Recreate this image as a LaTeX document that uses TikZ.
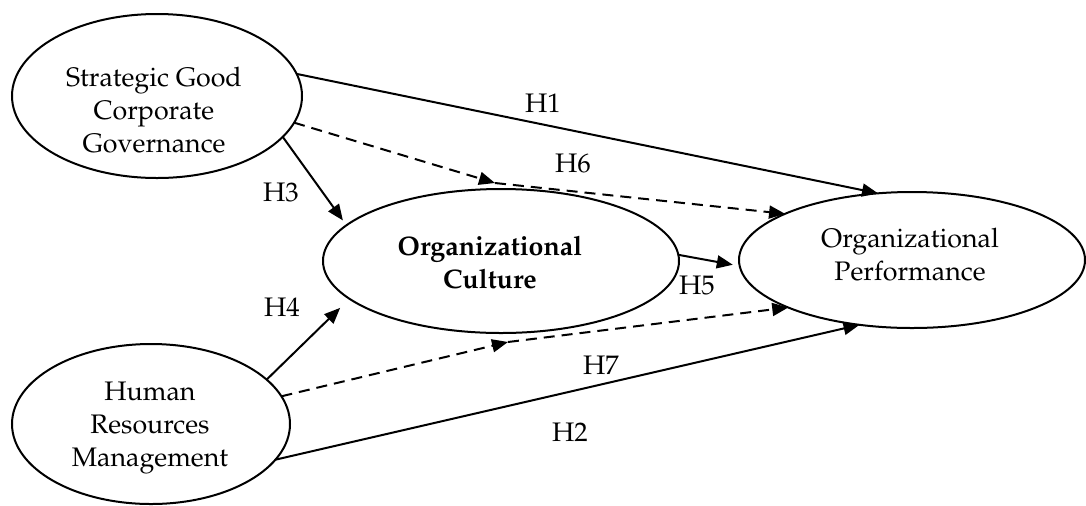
\documentclass[tikz,border=0pt]{standalone}
\usepackage[T1]{fontenc}
\usepackage{mathpazo}
\usetikzlibrary{arrows.meta,shapes.geometric}

\tikzset{
  construct/.style={draw, ellipse, line width=1pt, inner sep=0pt, outer sep=0pt},
  caption/.style={align=center, font=\fontsize{13.4}{16.5}\selectfont},
  hyp/.style={font=\fontsize{13.4}{16.5}\selectfont, inner sep=0pt},
  link/.style={line width=1pt, -{Triangle[length=8pt,width=6.5pt]}},
  mediated/.style={link, dash pattern=on 5.5pt off 3.5pt},
}

\begin{document}
\begin{tikzpicture}[x=0.5pt, y=-0.5pt]
	% Cadre
	\useasboundingbox (0,0) rectangle (1086,505);
	% Construits
	\node[construct, minimum width=145pt, minimum height=82pt]	(sgcg)	at (157,96)		{};
	\node[construct, minimum width=178pt, minimum height=72pt]	(oc)	at (501,261)	{};
	\node[construct, minimum width=173pt, minimum height=68pt]	(op)	at (912,260)	{};
	\node[construct, minimum width=139pt, minimum height=80pt]	(hrm)	at (151,424)	{};
	% Textes
	\node[caption]	(sgcg-txt)	at (154,110)	{Strategic Good\\Corporate\\Governance};
	\node[caption, font=\fontsize{13.4}{16.5}\selectfont\bfseries]	(oc-txt)	at (490,262)	{Organizational\\Culture};
	\node[caption]	(op-txt)	at (910,255)	{Organizational\\Performance};
	\node[caption]	(hrm-txt)	at (150,428)	{Human\\Resources\\Management};
	% Points de passage
	\coordinate (m6) at (495,183);
	\coordinate (m7) at (508,342);
	% Effets directs
	\draw[link]	(sgcg.9)	-- (op.117);	% H1
	\draw[link]	(hrm.-16)	-- (op.231);	% H2
	\draw[link, shorten >=3pt]	(sgcg.-18)	-- (oc.167.7);	% H3
	\draw[link, shorten >=6.5pt]	(hrm.21)	-- (oc.194.4);	% H4
	\draw[link, shorten >=3.5pt]	(oc.2)	-- (op.182);	% H5
	% Effets indirects
	\draw[mediated]	(sgcg.-11)	-- (m6);
	\draw[mediated]	(m6)	-- (op.160);	% H6
	\draw[mediated]	(hrm.12)	-- (m7);
	\draw[mediated]	(m7)	-- (op.201);	% H7
	% Etiquettes
	\node[hyp]	(h1)	at (543,103)	{H1};
	\node[hyp]	(h2)	at (570,432)	{H2};
	\node[hyp]	(h3)	at (281,192)	{H3};
	\node[hyp]	(h4)	at (282,307)	{H4};
	\node[hyp]	(h5)	at (697,285)	{H5};
	\node[hyp]	(h6)	at (573,163)	{H6};
	\node[hyp]	(h7)	at (601,365)	{H7};
\end{tikzpicture}
\end{document}
